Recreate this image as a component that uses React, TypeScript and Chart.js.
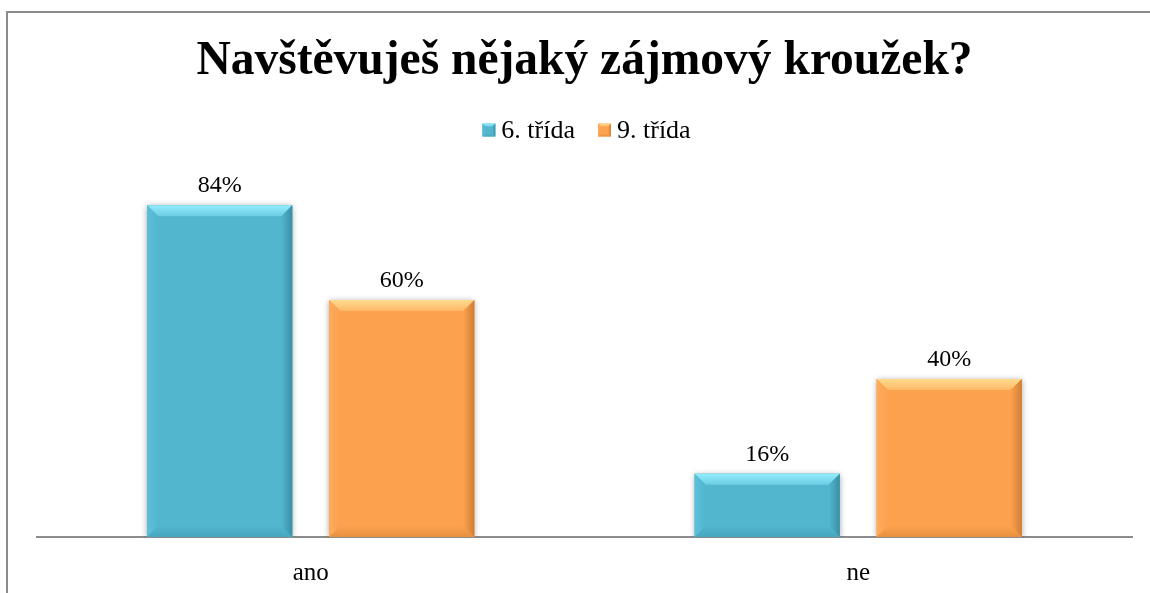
import React, { useEffect, useRef } from "react";
import { Chart, registerables } from "chart.js";

Chart.register(...registerables);

const titleText = "Navštěvuješ nějaký zájmový kroužek?";
const categories = ["ano", "ne"];
const seriesNames = ["6. třída", "9. třída"];
const values6 = [0.84, 0.16];
const values9 = [0.6, 0.4];

const FONT = '"Liberation Serif", "Times New Roman", serif';

const palette = [
  { base: "#52B6CF", light: "#93EDFC", lightEnd: "#6CCDE3", side: "#5CC0D8", dark: "#3A8FA4", bottom: "#46A7BF" },
  { base: "#FCA14E", light: "#FFDB8E", lightEnd: "#FDB868", side: "#FDAC5C", dark: "#D07E36", bottom: "#E6913F" },
];

function bevel(ctx: CanvasRenderingContext2D, left: number, top: number, right: number, bottom: number, b: number, p: any) {
  ctx.fillStyle = p.base;
  ctx.fillRect(left, top, right - left, bottom - top);
  let g = ctx.createLinearGradient(0, top, 0, top + b);
  g.addColorStop(0, p.light);
  g.addColorStop(1, p.lightEnd);
  ctx.fillStyle = g;
  ctx.beginPath();
  ctx.moveTo(left, top);
  ctx.lineTo(right, top);
  ctx.lineTo(right - b, top + b);
  ctx.lineTo(left + b, top + b);
  ctx.closePath();
  ctx.fill();
  g = ctx.createLinearGradient(left, 0, left + b, 0);
  g.addColorStop(0, p.side);
  g.addColorStop(1, p.base);
  ctx.fillStyle = g;
  ctx.beginPath();
  ctx.moveTo(left, top);
  ctx.lineTo(left + b, top + b);
  ctx.lineTo(left + b, bottom - b);
  ctx.lineTo(left, bottom);
  ctx.closePath();
  ctx.fill();
  g = ctx.createLinearGradient(right, 0, right - b, 0);
  g.addColorStop(0, p.dark);
  g.addColorStop(1, p.base);
  ctx.fillStyle = g;
  ctx.beginPath();
  ctx.moveTo(right, top);
  ctx.lineTo(right, bottom);
  ctx.lineTo(right - b, bottom - b);
  ctx.lineTo(right - b, top + b);
  ctx.closePath();
  ctx.fill();
  g = ctx.createLinearGradient(0, bottom, 0, bottom - b);
  g.addColorStop(0, p.bottom);
  g.addColorStop(1, p.base);
  ctx.fillStyle = g;
  ctx.beginPath();
  ctx.moveTo(left, bottom);
  ctx.lineTo(left + b, bottom - b);
  ctx.lineTo(right - b, bottom - b);
  ctx.lineTo(right, bottom);
  ctx.closePath();
  ctx.fill();
}

const framePlugin = {
  id: "frame",
  beforeDraw(chart: any) {
    const ctx = chart.ctx;
    ctx.save();
    ctx.fillStyle = "#ffffff";
    ctx.fillRect(0, 0, chart.width, chart.height);
    ctx.strokeStyle = "#8a8a8a";
    ctx.lineWidth = 2;
    ctx.strokeRect(7, 12, 3000, 3000);
    ctx.restore();
  },
};

const barPlugin = {
  id: "bevelBars",
  beforeDatasetsDraw(chart: any) {
    const ctx = chart.ctx;
    ctx.save();
    ctx.shadowColor = "rgba(0,0,0,0.35)";
    ctx.shadowBlur = 6;
    ctx.shadowOffsetX = 0;
    ctx.shadowOffsetY = 1;
  },
  afterDatasetsDraw(chart: any) {
    const ctx = chart.ctx;
    ctx.restore();
    ctx.save();
    chart.data.datasets.forEach((ds: any, di: number) => {
      const meta = chart.getDatasetMeta(di);
      meta.data.forEach((el: any, i: number) => {
        const { x, y, base, width } = el.getProps(["x", "y", "base", "width"], true);
        const left = x - width / 2;
        const right = x + width / 2;
        const b = Math.min(11, (base - y) / 2);
        bevel(ctx, left, y, right, base, b, palette[di]);
        ctx.fillStyle = "#000000";
        ctx.font = `24px ${FONT}`;
        ctx.textAlign = "center";
        ctx.textBaseline = "alphabetic";
        ctx.fillText(`${Math.round(ds.data[i] * 100)}%`, x, y - 13);
      });
    });
    ctx.font = `26px ${FONT}`;
    ctx.textBaseline = "alphabetic";
    ctx.textAlign = "left";
    const box = 13;
    const gapBox = 6;
    const gapItem = 23;
    const widths = seriesNames.map((n) => ctx.measureText(n).width);
    const total = widths.reduce((a, w) => a + box + gapBox + w, 0) + gapItem * (seriesNames.length - 1);
    const cx = (chart.chartArea.left + chart.chartArea.right) / 2 + 2;
    let xx = cx - total / 2;
    const baseY = 137.5;
    seriesNames.forEach((n, i) => {
      bevel(ctx, xx, baseY - 14, xx + box, baseY - 1, 3, palette[i]);
      xx += box + gapBox;
      ctx.fillStyle = "#000000";
      ctx.fillText(n, xx, baseY);
      xx += widths[i] + gapItem;
    });
    ctx.restore();
  },
};

export default function App() {
  const ref = useRef<HTMLCanvasElement | null>(null);
  useEffect(() => {
    document.body.style.margin = "0";
    if (!ref.current) return;
    const chart = new Chart(ref.current, {
      type: "bar",
      data: {
        labels: categories,
        datasets: [
          { label: seriesNames[0], data: values6, backgroundColor: palette[0].base, borderWidth: 0 },
          { label: seriesNames[1], data: values9, backgroundColor: palette[1].base, borderWidth: 0 },
        ],
      },
      options: {
        responsive: false,
        animation: false,
        devicePixelRatio: 1,
        layout: { padding: { left: 37, right: 18, top: 0, bottom: -16 } },
        datasets: { bar: { categoryPercentage: 0.665, barPercentage: 0.797 } } as any,
        plugins: {
          legend: { display: false },
          tooltip: { enabled: false },
          title: {
            display: true,
            text: titleText,
            color: "#000000",
            font: { family: FONT, size: 47.5, weight: "bold" },
            padding: { top: 33, bottom: 52 },
          },
        },
        scales: {
          x: {
            grid: { display: false, drawTicks: false, tickLength: 0 },
            border: { display: true, color: "#8c8c8c", width: 2 },
            ticks: { color: "#000000", font: { family: FONT, size: 25 }, padding: 21 },
          },
          y: { display: false, min: 0, max: 1 },
        },
      },
      plugins: [framePlugin, barPlugin],
    });
    return () => chart.destroy();
  }, []);
  return <canvas ref={ref} width={1150} height={593} style={{ display: "block", width: 1150, height: 593 }} />;
}
